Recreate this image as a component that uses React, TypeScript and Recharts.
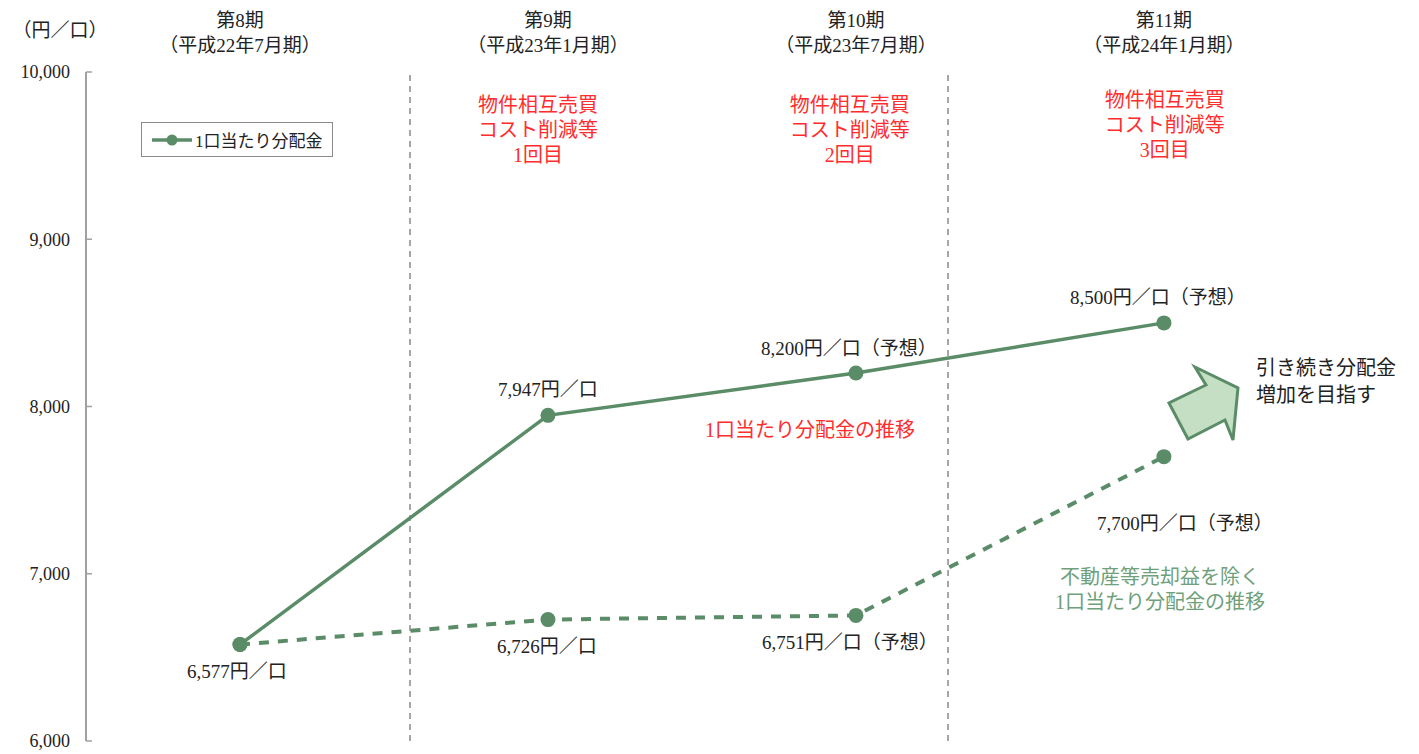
import { LineChart, Line, XAxis, YAxis, ReferenceLine, ReferenceDot, LabelList } from 'recharts';

const periods = ['第8期', '第9期', '第10期', '第11期'];
const periodDates = ['（平成22年7月期）', '（平成23年1月期）', '（平成23年7月期）', '（平成24年1月期）'];
const distribution = [6577, 7947, 8200, 8500];
const excludingGains = [6577, 6726, 6751, 7700];
const distributionLabels = ['6,577円／口', '7,947円／口', '8,200円／口（予想）', '8,500円／口（予想）'];
const excludingLabels = ['', '6,726円／口', '6,751円／口（予想）', '7,700円／口（予想）'];
const yTicks = [6000, 7000, 8000, 9000, 10000];
const eventNotes = [
  ['物件相互売買', 'コスト削減等', '1回目'],
  ['物件相互売買', 'コスト削減等', '2回目'],
  ['物件相互売買', 'コスト削減等', '3回目'],
];

const GREEN = '#5b8c68';
const RED = '#ff2e2e';
const FONT = "'Liberation Serif', 'Noto Sans CJK JP', serif";

const data = periods.map((p, i) => ({
  idx: i,
  period: p,
  dist: distribution[i],
  excl: excludingGains[i],
  distLabel: distributionLabels[i],
  exclLabel: excludingLabels[i],
}));

// label offsets (px) relative to the point
const distOffsets = [[-3, 27], [0, -26], [-7, -25], [-6, -25]];
const exclOffsets = [[0, 0], [-1, 27], [-6, 27], [21, 67]];

const makeLabel = (offsets: number[][]) => (props: any) => {
  const { x, y, value, index } = props;
  if (!value) return null;
  const [dx, dy] = offsets[index] || [0, 0];
  return (
    <text x={x + dx} y={y + dy} textAnchor="middle" dominantBaseline="central" fontSize={19} fill="#222" fontFamily={FONT}>
      {value}
    </text>
  );
};

const MultiText = ({ cx, cy, lines, color, gap = 25, size = 20, anchor = 'middle' }: any) => {
  const start = cy - ((lines.length - 1) * gap) / 2;
  return (
    <g>
      {lines.map((l: string, i: number) => (
        <text key={i} x={cx} y={start + i * gap} textAnchor={anchor} dominantBaseline="central" fontSize={size} fill={color} fontFamily={FONT}>
          {l}
        </text>
      ))}
    </g>
  );
};

const PeriodTick = (props: any) => {
  const { x, payload } = props;
  const i = payload.value;
  return (
    <g>
      <text x={x} y={20} textAnchor="middle" dominantBaseline="central" fontSize={19} fill="#222" fontFamily={FONT}>
        {periods[i]}
      </text>
      <text x={x} y={45} textAnchor="middle" dominantBaseline="central" fontSize={19} fill="#222" fontFamily={FONT}>
        {periodDates[i]}
      </text>
    </g>
  );
};

const LegendBox = () => (
  <div
    style={{
      position: 'absolute',
      left: 141,
      top: 122,
      width: 190,
      height: 33,
      border: '1.5px solid #8a8a8a',
      background: '#fff',
      display: 'flex',
      alignItems: 'center',
    }}
  >
    <svg width={50} height={20}>
      <line x1={10} y1={10} x2={50} y2={10} stroke={GREEN} strokeWidth={3.5} />
      <circle cx={30} cy={10} r={5.5} fill={GREEN} />
    </svg>
    <span style={{ fontSize: 17, fontFamily: FONT, color: '#222', marginLeft: 3 }}>1口当たり分配金</span>
  </div>
);

const arrowPoints = [[-9, -36], [34, -15], [29, 37], [21, 17], [-16, 36], [-35, 0], [2, -18]];

export default function App() {
  return (
    <div style={{ position: 'absolute', left: 0, top: 0, background: '#fff' }}>
      <LineChart width={1419} height={754} data={data} margin={{ top: 0, right: 17, bottom: 13, left: 10 }}>
        <XAxis
          dataKey="idx"
          type="number"
          domain={[-0.5, 3.773]}
          ticks={[0, 1, 2, 3]}
          tick={false}
          tickLine={false}
          axisLine={{ stroke: '#a0a0a0', strokeWidth: 2 }}
          height={0}
        />
        <XAxis
          xAxisId="top"
          orientation="top"
          dataKey="idx"
          type="number"
          domain={[-0.5, 3.773]}
          ticks={[0, 1, 2, 3]}
          tick={<PeriodTick />}
          tickLine={false}
          axisLine={false}
          height={72}
        />
        <YAxis
          domain={[6000, 10000]}
          ticks={yTicks}
          width={76}
          tickSize={-6}
          tickMargin={22}
          tickFormatter={(v: number) => v.toLocaleString('en-US')}
          tick={{ fontSize: 18, fill: '#222', fontFamily: FONT }}
          tickLine={{ stroke: '#a0a0a0', strokeWidth: 1.5 }}
          axisLine={{ stroke: '#a0a0a0', strokeWidth: 2 }}
          label={{
            content: (p: any) => (
              <text x={p.viewBox.x + 50} y={p.viewBox.y - 42} textAnchor="middle" dominantBaseline="central" fontSize={19} fill="#222" fontFamily={FONT}>
                （円／口）
              </text>
            ),
          }}
        />
        <ReferenceLine x={0.552} stroke="#8a8a8a" strokeDasharray="6 5" strokeWidth={1.5} segment={[{ x: 0.552, y: 9980 }, { x: 0.552, y: 6000 }]} />
        <ReferenceLine x={2.299} stroke="#8a8a8a" strokeDasharray="6 5" strokeWidth={1.5} segment={[{ x: 2.299, y: 9980 }, { x: 2.299, y: 6000 }]} />

        <Line
          dataKey="excl"
          stroke={GREEN}
          strokeWidth={4}
          strokeDasharray="10 9"
          dot={{ r: 7.5, fill: GREEN, stroke: 'none' }}
          legendType="none"
          isAnimationActive={false}
        >
          <LabelList dataKey="exclLabel" content={makeLabel(exclOffsets)} />
        </Line>
        <Line
          dataKey="dist"
          name="1口当たり分配金"
          stroke={GREEN}
          strokeWidth={3.5}
          dot={{ r: 7.5, fill: GREEN, stroke: 'none' }}
          isAnimationActive={false}
        >
          <LabelList dataKey="distLabel" content={makeLabel(distOffsets)} />
        </Line>

        <ReferenceDot x={0.968} y={9653} r={0} shape={(p: any) => <MultiText cx={p.cx} cy={p.cy} lines={eventNotes[0]} color={RED} />} />
        <ReferenceDot x={1.98} y={9653} r={0} shape={(p: any) => <MultiText cx={p.cx} cy={p.cy} lines={eventNotes[1]} color={RED} />} />
        <ReferenceDot x={3.003} y={9683} r={0} shape={(p: any) => <MultiText cx={p.cx} cy={p.cy} lines={eventNotes[2]} color={RED} />} />
        <ReferenceDot x={1.851} y={7859} r={0} shape={(p: any) => <MultiText cx={p.cx} cy={p.cy} lines={['1口当たり分配金の推移']} color={RED} />} />
        <ReferenceDot
          x={2.987}
          y={6903}
          r={0}
          shape={(p: any) => <MultiText cx={p.cx} cy={p.cy} lines={['不動産等売却益を除く', '1口当たり分配金の推移']} color="#6f9f7b" />}
        />
        <ReferenceDot
          x={3.299}
          y={8149}
          r={0}
          shape={(p: any) => <MultiText cx={p.cx} cy={p.cy} lines={['引き続き分配金', '増加を目指す']} color="#222" anchor="start" gap={27} />}
        />
        <ReferenceDot
          x={3.13}
          y={8021}
          r={0}
          shape={(p: any) => (
            <polygon
              points={arrowPoints.map(([dx, dy]) => `${p.cx + dx},${p.cy + dy}`).join(' ')}
              fill="#c4dfc3"
              stroke={GREEN}
              strokeWidth={3}
              strokeLinejoin="miter"
            />
          )}
        />
      </LineChart>
      <LegendBox />
    </div>
  );
}
